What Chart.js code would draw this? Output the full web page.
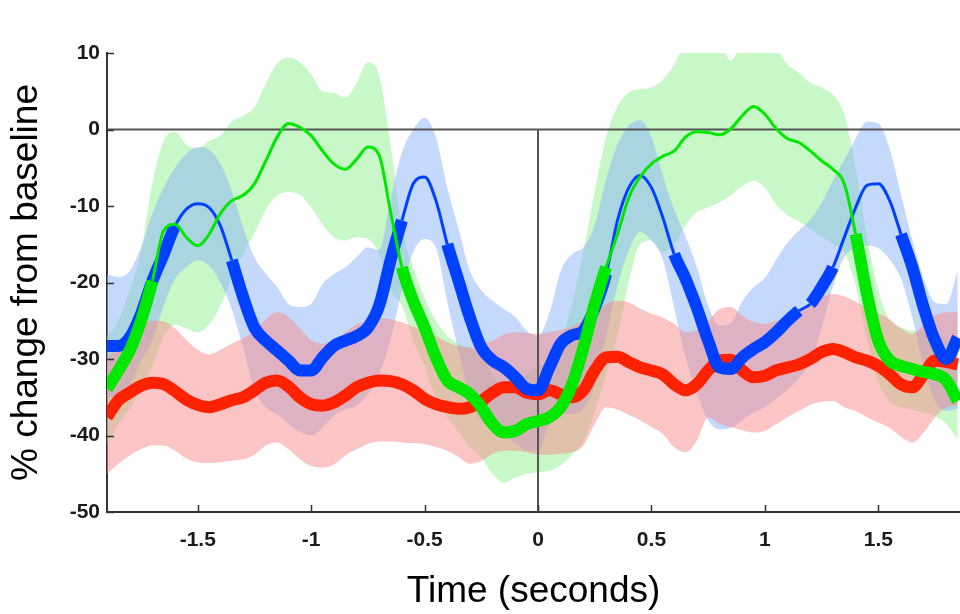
<!DOCTYPE html>
<html>
<head>
<meta charset="utf-8">
<script src="https://cdn.jsdelivr.net/npm/chart.js@4.4.1/dist/chart.umd.min.js"></script>
<style>
  html, body { margin: 0; padding: 0; background: #fff; }
  canvas { display: block; }
</style>
</head>
<body>
<canvas id="changeChart" width="960" height="614"></canvas>
<script>
// sample times (seconds)
const time = [
  -1.90, -1.85, -1.80, -1.75, -1.70, -1.65, -1.60, -1.55, -1.50, -1.45,
  -1.40, -1.35, -1.30, -1.25, -1.20, -1.15, -1.10, -1.05, -1.00, -0.95,
  -0.90, -0.85, -0.80, -0.75, -0.70, -0.65, -0.60, -0.55, -0.50, -0.45,
  -0.40, -0.35, -0.30, -0.25, -0.20, -0.15, -0.10, -0.05, 0.00, 0.05,
  0.10, 0.15, 0.20, 0.25, 0.30, 0.35, 0.40, 0.45, 0.50, 0.55,
  0.60, 0.65, 0.70, 0.75, 0.80, 0.85, 0.90, 0.95, 1.00, 1.05,
  1.10, 1.15, 1.20, 1.25, 1.30, 1.35, 1.40, 1.45, 1.50, 1.55,
  1.60, 1.65, 1.70, 1.75, 1.80, 1.85
];

// red series
const redMean = [
  -37.6, -35.4, -34.4, -33.5, -33.1, -33.3, -34.2, -35.3, -36.0, -36.3,
  -35.9, -35.4, -35.0, -34.1, -33.1, -32.8, -33.6, -35.0, -35.9, -36.1,
  -35.7, -34.8, -33.7, -33.1, -32.8, -32.9, -33.3, -34.1, -35.2, -35.9,
  -36.3, -36.5, -36.3, -35.5, -34.4, -33.7, -33.7, -34.4, -34.6, -34.1,
  -34.6, -35.0, -34.1, -31.5, -29.8, -29.7, -30.4, -31.1, -31.5, -32.0,
  -33.3, -34.1, -33.3, -31.5, -30.2, -30.1, -31.5, -32.4, -32.2, -31.5,
  -31.1, -30.7, -30.0, -29.1, -28.7, -29.1, -29.8, -30.2, -30.9, -32.0,
  -33.3, -33.7, -32.0, -30.2, -30.4, -30.7
];
const redUpper = [
  -30.0, -28.0, -26.5, -25.5, -25.0, -25.1, -26.0, -27.5, -28.8, -29.4,
  -28.8, -28.0, -27.3, -26.3, -24.8, -23.9, -24.5, -26.0, -27.5, -28.0,
  -27.5, -26.5, -25.5, -25.0, -24.6, -24.8, -25.2, -25.8, -26.3, -27.0,
  -27.8, -28.3, -28.5, -28.0, -27.6, -26.8, -26.5, -26.6, -26.7, -26.5,
  -26.2, -25.8, -25.0, -24.1, -22.8, -22.4, -22.6, -23.4, -24.1, -24.6,
  -25.4, -26.5, -26.2, -25.0, -23.5, -23.2, -24.3, -25.2, -25.4, -25.0,
  -24.5, -23.8, -22.8, -21.9, -21.5, -21.8, -22.5, -23.3, -24.0, -24.8,
  -26.0, -26.7, -25.5, -24.3, -23.9, -23.9
];
const redLower = [
  -45.0, -43.7, -42.6, -41.8, -41.3, -41.3, -42.0, -43.0, -43.5, -43.6,
  -43.5, -43.3, -43.1, -42.5, -41.3, -40.9, -41.8, -43.1, -44.0, -44.2,
  -43.8, -42.6, -41.8, -41.1, -40.8, -40.8, -40.9, -41.0, -41.1, -41.5,
  -42.0, -42.8, -43.7, -43.3, -42.4, -42.0, -42.0, -42.2, -42.5, -42.5,
  -42.4, -42.2, -41.3, -38.5, -36.3, -36.6, -37.3, -38.0, -38.9, -39.8,
  -41.5, -42.2, -40.7, -37.6, -38.5, -38.9, -39.3, -39.6, -39.4, -38.5,
  -37.6, -36.8, -36.0, -35.6, -35.5, -36.3, -36.8, -37.6, -38.3, -39.0,
  -40.2, -40.9, -39.6, -37.6, -36.3, -36.0
];

// blue series
const blueMean = [
  -28.3, -28.3, -27.2, -24.1, -19.8, -16.3, -12.6, -10.4, -9.7, -10.2,
  -12.6, -17.1, -21.9, -25.9, -27.6, -28.9, -30.2, -31.5, -31.5, -29.8,
  -28.3, -27.6, -27.0, -25.9, -23.0, -17.1, -11.9, -7.1, -6.2, -9.3,
  -15.0, -19.8, -24.6, -28.5, -30.2, -31.1, -32.4, -33.9, -34.1, -31.1,
  -28.0, -26.9, -26.3, -23.3, -18.9, -11.9, -7.6, -6.0, -7.6, -11.5,
  -16.3, -19.5, -23.3, -27.6, -31.1, -31.3, -29.8, -28.7, -27.8, -26.5,
  -25.0, -23.7, -22.8, -20.6, -18.0, -14.1, -10.2, -7.3, -7.1, -9.3,
  -13.7, -18.0, -23.3, -27.6, -30.0, -27.2
];
const blueUpper = [
  -18.9, -19.3, -18.5, -15.4, -11.0, -7.6, -5.0, -3.2, -2.3, -2.6,
  -4.5, -8.0, -12.8, -16.7, -18.9, -20.6, -22.8, -23.2, -22.8, -20.2,
  -18.9, -18.0, -16.7, -15.4, -15.8, -9.0, -3.0, 0.0, 1.5, -1.0,
  -7.6, -13.0, -18.5, -21.0, -22.4, -23.5, -24.5, -26.3, -27.0, -24.0,
  -18.5, -16.3, -15.4, -12.5, -6.5, -2.0, 0.5, 1.2, -1.0, -6.0,
  -10.5, -14.0, -18.0, -23.0, -25.6, -25.3, -22.5, -20.6, -19.4, -17.0,
  -14.8, -13.2, -11.8, -9.6, -6.7, -4.0, -1.2, 1.0, 0.8, -2.5,
  -8.5, -14.5, -19.5, -22.6, -22.8, -18.5
];
const blueLower = [
  -35.0, -35.0, -33.5, -30.2, -27.5, -23.0, -19.5, -18.0, -17.1, -17.8,
  -20.0, -23.5, -28.5, -34.0, -36.3, -37.2, -38.5, -39.5, -40.0, -39.0,
  -37.4, -36.6, -36.1, -34.6, -32.0, -27.5, -21.0, -16.0, -14.3, -15.5,
  -22.5, -29.0, -35.0, -38.0, -39.3, -40.0, -41.0, -42.0, -42.0, -38.5,
  -37.2, -37.2, -36.5, -33.5, -27.0, -20.5, -15.8, -13.4, -14.5, -17.0,
  -23.3, -29.8, -34.5, -38.0, -39.2, -39.0, -38.0, -37.0, -36.3, -35.2,
  -34.0, -32.5, -30.5, -26.0, -20.5, -16.7, -15.5, -15.2, -15.5, -17.0,
  -19.5, -24.6, -31.0, -35.5, -36.8, -36.5
];

// green series
const greenMean = [
  -33.9, -31.5, -28.9, -25.0, -19.8, -13.2, -12.4, -14.1, -15.2, -13.7,
  -11.0, -9.3, -8.6, -7.1, -4.1, -1.0, 0.8, 0.3, -0.8, -2.8,
  -4.5, -5.2, -3.9, -2.3, -3.4, -10.8, -18.0, -22.4, -25.9, -29.8,
  -32.8, -33.7, -34.6, -36.3, -38.5, -39.6, -39.4, -38.5, -38.1, -37.6,
  -36.3, -33.3, -28.5, -22.8, -18.0, -13.7, -8.9, -6.2, -4.5, -3.5,
  -2.8, -1.0, -0.3, -0.4, -0.7, 0.1, 1.8, 3.0, 2.0, 0.1,
  -1.2, -1.7, -2.8, -4.1, -5.2, -7.1, -13.7, -21.5, -27.6, -30.2,
  -30.9, -31.3, -31.7, -32.0, -32.8, -35.5
];
const greenUpper = [
  -27.0, -25.0, -21.0, -16.0, -7.0, -1.5, -0.3, -2.0, -2.5, -1.5,
  -0.8, 1.0, 1.8, 2.9, 6.0, 8.6, 9.4, 8.8, 7.2, 5.0,
  4.8, 4.2, 6.0, 8.8, 7.0, -2.0, -13.0, -18.0, -22.0, -25.0,
  -27.0, -28.0, -28.5, -29.8, -32.0, -33.5, -33.0, -32.0, -31.0, -30.0,
  -27.6, -22.8, -16.0, -8.0, -1.0, 3.0, 4.8, 5.3, 5.5, 6.5,
  8.5, 11.0, 11.0, 11.0, 11.0, 9.0, 11.0, 11.0, 11.0, 10.5,
  8.5, 7.4, 6.1, 5.5, 4.5, 2.0, -5.0, -14.0, -21.0, -25.0,
  -25.9, -26.3, -26.5, -26.7, -27.6, -29.8
];
const greenLower = [
  -41.1, -38.5, -36.5, -34.0, -31.0, -27.0, -25.5, -26.0, -26.5, -25.5,
  -23.0, -19.5, -16.3, -13.5, -10.5, -8.6, -8.2, -8.5, -10.2, -12.4,
  -14.1, -14.5, -14.1, -14.3, -16.3, -21.0, -23.0, -27.5, -31.0, -35.0,
  -37.6, -39.5, -41.5, -42.9, -45.0, -46.2, -45.5, -45.0, -44.8, -44.6,
  -43.9, -42.5, -40.8, -36.8, -32.0, -27.0, -20.0, -15.0, -14.5, -16.0,
  -15.0, -12.5, -10.8, -10.2, -9.5, -8.6, -7.4, -6.7, -7.6, -9.8,
  -11.2, -12.0, -13.0, -14.0, -15.0, -16.0, -20.5, -27.5, -33.0, -35.5,
  -36.3, -36.6, -37.0, -37.5, -38.5, -40.5
];

// time ranges drawn with the thick line
const blueThick = [[-1.9, -1.615], [-1.366, -0.61], [-0.403, 0.317], [0.596, 1.14], [1.205, 1.295], [1.603, 1.86]];
const greenThick = [[-1.9, -1.69], [-0.609, 0.28], [1.404, 1.86]];

const xTicks = [-1.5, -1, -0.5, 0, 0.5, 1, 1.5];
const yTicks = [10, 0, -10, -20, -30, -40, -50];

const FONT = "'Liberation Sans', Arial, Helvetica, sans-serif";

const pts = arr => time.map((t, i) => ({ x: t, y: arr[i] }));

function widthFor(ranges) {
  return ctx => {
    const mid = (ctx.p0.parsed.x + ctx.p1.parsed.x) / 2;
    return ranges.some(([a, b]) => mid >= a && mid <= b) ? 12 : 3;
  };
}

function meanLine(data, color, order, ranges) {
  const ds = {
    data: pts(data),
    borderColor: color,
    borderWidth: ranges ? 3 : 12,
    borderCapStyle: 'butt',
    borderJoinStyle: 'round',
    pointRadius: 0,
    fill: false,
    cubicInterpolationMode: 'monotone',
    order: order
  };
  if (ranges) ds.segment = { borderWidth: widthFor(ranges) };
  return ds;
}

function bandEdge(data, color, order, fillTarget) {
  return {
    data: pts(data),
    borderWidth: 0,
    borderColor: 'rgba(0,0,0,0)',
    backgroundColor: color,
    pointRadius: 0,
    fill: fillTarget === undefined ? false : { target: fillTarget },
    cubicInterpolationMode: 'monotone',
    order: order
  };
}

// inward tick marks on the left and bottom axes
const innerTicks = {
  id: 'innerTicks',
  afterDraw(chart) {
    const { ctx, chartArea, scales: { x, y } } = chart;
    ctx.save();
    ctx.strokeStyle = '#333';
    ctx.lineWidth = 1.5;
    ctx.beginPath();
    xTicks.forEach(v => {
      const px = Math.round(x.getPixelForValue(v)) + 0.5;
      ctx.moveTo(px, chartArea.bottom);
      ctx.lineTo(px, chartArea.bottom - 7);
    });
    yTicks.forEach(v => {
      const py = Math.round(y.getPixelForValue(v)) + 0.5;
      ctx.moveTo(chartArea.left, py);
      ctx.lineTo(chartArea.left + 7, py);
    });
    ctx.stroke();
    ctx.restore();
  }
};

const ctx1 = document.getElementById('changeChart').getContext('2d');
const changeChart = new Chart(ctx1, {
  type: 'line',
  data: {
    datasets: [
      meanLine(greenMean, '#00e800', 0, greenThick),
      meanLine(blueMean, '#0040ff', 1, blueThick),
      meanLine(redMean, '#ff2200', 2, null),
      {
        data: [{ x: -1.9, y: 0 }, { x: 1.86, y: 0 }],
        borderColor: '#555', borderWidth: 2, pointRadius: 0, fill: false, order: 3
      },
      {
        data: [{ x: 0, y: 0 }, { x: 0, y: -50 }],
        borderColor: '#555', borderWidth: 2, pointRadius: 0, fill: false, order: 3
      },
      bandEdge(redUpper, 'rgba(250,140,140,0.5)', 4, 6),
      bandEdge(redLower, 'rgba(0,0,0,0)', 4),
      bandEdge(blueUpper, 'rgba(140,180,250,0.5)', 5, 8),
      bandEdge(blueLower, 'rgba(0,0,0,0)', 5),
      bandEdge(greenUpper, 'rgba(145,240,145,0.5)', 6, 10),
      bandEdge(greenLower, 'rgba(0,0,0,0)', 6)
    ]
  },
  options: {
    responsive: false,
    animation: false,
    events: [],
    layout: {
      padding: { top: 53, right: 0, bottom: 0, left: 0 }
    },
    plugins: {
      legend: { display: false },
      tooltip: { enabled: false }
    },
    scales: {
      x: {
        type: 'linear',
        min: -1.9,
        max: 1.86,
        afterBuildTicks: scale => { scale.ticks = xTicks.map(v => ({ value: v })); },
        afterFit: scale => { scale.height = 102; },
        grid: { display: false, drawTicks: false },
        border: { display: true, color: '#333', width: 2 },
        ticks: {
          padding: 16,
          color: '#1a1a1a',
          font: { family: FONT, size: 21, weight: 'bold' },
          callback: v => String(v)
        },
        title: {
          display: true,
          text: 'Time (seconds)',
          color: '#000',
          font: { family: FONT, size: 37 },
          padding: { top: 0, bottom: 0 }
        }
      },
      y: {
        type: 'linear',
        min: -50,
        max: 10,
        afterBuildTicks: scale => { scale.ticks = yTicks.map(v => ({ value: v })); },
        afterFit: scale => { scale.width = 107; },
        grid: { display: false, drawTicks: false },
        border: { display: true, color: '#333', width: 2 },
        ticks: {
          padding: 7,
          color: '#1a1a1a',
          font: { family: FONT, size: 21, weight: 'bold' },
          callback: v => String(v)
        },
        title: {
          display: true,
          text: '% change from baseline',
          color: '#000',
          font: { family: FONT, size: 37 },
          padding: { top: 5, bottom: 0 }
        }
      }
    }
  },
  plugins: [innerTicks]
});
</script>
</body>
</html>
